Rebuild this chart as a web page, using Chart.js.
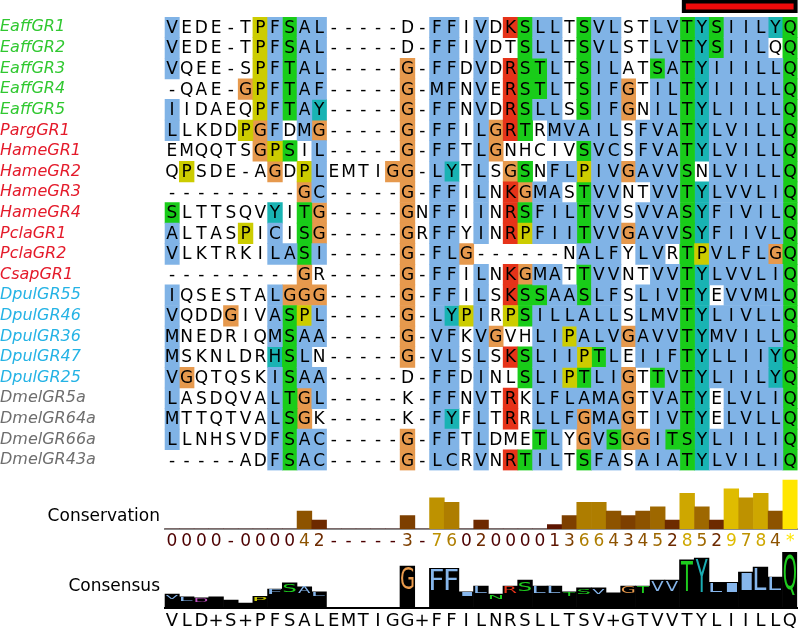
<!DOCTYPE html>
<html>
<head>
<meta charset="utf-8">
<script src="https://cdn.jsdelivr.net/npm/chart.js@4"></script>
<style>
  body { margin: 0; background: #fff; }
  .layer { position: absolute; left: 0; width: 800px; }
</style>
</head>
<body>
<div class="layer" style="top:0"><canvas id="alignment" width="800" height="480"></canvas></div>
<div class="layer" style="top:470px"><canvas id="conservation" width="800" height="80"></canvas></div>
<div class="layer" style="top:550px"><canvas id="consensus" width="800" height="81"></canvas></div>
<script>
// sequence names (rows)
const names = ['EaffGR1', 'EaffGR2', 'EaffGR3', 'EaffGR4', 'EaffGR5', 'PargGR1', 'HameGR1', 'HameGR2',
  'HameGR3', 'HameGR4', 'PclaGR1', 'PclaGR2', 'CsapGR1', 'DpulGR55', 'DpulGR46', 'DpulGR36',
  'DpulGR47', 'DpulGR25', 'DmelGR5a', 'DmelGR64a', 'DmelGR66a', 'DmelGR43a'];

// aligned residues, 43 columns each
const residues = [
  'VEDE-TPFSAL-----D-FFIVDKSLLTSVLSTLVTYSIILYQ',
  'VEDE-TPFSAL-----D-FFIVDTSLLTSVLSTLVTYSIILQQ',
  'VQEE-SPFTAL-----G-FFDVDRSTLTSILATSATYIIILLQ',
  '-QAE-GPFTAF-----G-MFNVERSTLTSIFGTILTYIIILLQ',
  'IIDAEQPFTAY-----G-FFNVDRSLLSSIFGNILTYLIILLQ',
  'LLKDDPGFDMG-----G-FFILGRTRMVAILSFVATYLVILLQ',
  'EMQQTSGPSIL-----G-FFTLGNHCIVSVCSFVATYLVILLQ',
  'QPSDE-AGDPLEMTIGG-LYTLSGSNFLPIVGAVVSNLVILLQ',
  '---------GC-----G-FFILNKGMASTVVNTVVTYLVVLIQ',
  'SLTTSQVYITG-----GNFFIINRSFILTVVSVVASYFIVILQ',
  'ALTASPICISG-----GRFFYINRPFIITVVGAVVSYFIIVLQ',
  'VLKTRKILASI-----G-FLG------NALFYLVRTPVLFLGQ',
  '---------GR-----G-FFILNKGMATTVVNTVVTYLVVLIQ',
  'IQSESTALGGG-----G-FFILSKSSAASLFSLIVTYEVVMLQ',
  'VQDDGIVASPL-----G-LYPIRPSILLALLSLMVTYLIVLLQ',
  'MNEDRIQMSAA-----G-VFKVGVHLIPALVGAVVTYMVILLQ',
  'MSKNLDRHSLN-----G-VLSLSKSLIIPTLEIIFTYLLIIYQ',
  'VGQTQSKISAA-----D-FFDINLSLIPTLIGTTVTYLIILYQ',
  'LASDQVALTGL-----K-FFNVTRKLFLAMAGTVATYELVLIQ',
  'MTTQTVALSGK-----K-FYFLTRRLLFGMAGTIVTYELVLLQ',
  'LLNHSVDFSAC-----G-FFTLDMETLYGVSGGITSYLIILIQ',
  '-----ADFSAC-----G-LCRVNRTILTSFASAIATYLVILIQ'
];

// Clustal colour class of each cell (b blue, g green, r red, o orange, y yellow, c cyan, . none)
const shades = [
  'b.....ybgbb ....... bb. b.rgbb.gbb..bbgcgbbbcg',
  'b.....ybgbb ....... bb. b..gbb.gbb..bbgcgbbb.g',
  'b.....ybgbb .....o. bb. b.rggb.gbb..gbgcbbbbbg',
  '.....oybgbb .....o. bb. b.rggb.gbbo.bbgcbbbbbg',
  'b.....ybgbc .....o. bb. b.rgbb.gbbo.bbgcbbbbbg',
  'b....yob.bo .....o. bb. borg.bbbbb.bbbgcbbbbbg',
  '......oyg.b .....o. bb. bo.....gbb.bbbgcbbbbbg',
  '.y.....o.yb ....oo. bc. b.og.bbybbobbbg.bbbbbg',
  '.........ob .....o. bb. b.robb.gbb..bbgcbbbbbg',
  'g......c.go .....o. bb. b.rgbbbgbb.bbbgcbbbbbg',
  'b....y.b.go .....o. bb. b.rybbbgbbobbbgcbbbbbg',
  'b......bbgb .....o. bbo ...... .bbb.bb.gybbbbog',
  '.........o. .....o. bb. b.robb.gbb..bbgcbbbbbg',
  'b......booo .....o. bb. b.rggbbgbb.bbbgc.bbbbg',
  'b...o..bgyb .....o. bcy b.ygbbbbbb.bbbgcbbbbbg',
  'b......bgbb .....o. bb. bo..bbybbbobbbgcbbbbbg',
  'b......cgb. .....o. bb. b.rgbbbygb.bbbgcbbbbcg',
  'bo.....bgbb ....... bb. b..gbbygbbo.gbgcbbbbcg',
  'b......bgob ....... bb. b.r.bbbbbbo.bbgc.bbbbg',
  'b......bgo. ....... bc. b.r.bbbobbo.bbgc.bbbbg',
  'b......bgbb .....o. bb. b...gb.obgoobggcbbbbbg',
  '.......bgbb .....o. bb. b.rgbb.gbb.bbbgcbbbbbg'
];

// conservation score per column ('-' gap column, '*' fully conserved)
const conservation = ['0', '0', '0', '0', '-', '0', '0', '0', '0', '4', '2', '-', '-', '-', '-', '-', '3', '-',
  '7', '6', '0', '2', '0', '0', '0', '0', '1', '3', '6', '6', '4', '3', '4', '5', '2', '8', '5', '2', '9',
  '7', '8', '4', '*'];

// consensus residue and logo height (% of column)
const consensus = ['V', 'L', 'D', '+', 'S', '+', 'P', 'F', 'S', 'A', 'L', 'E', 'M', 'T', 'I', 'G', 'G', '+',
  'F', 'F', 'I', 'L', 'N', 'R', 'S', 'L', 'L', 'T', 'S', 'V', '+', 'G', 'T', 'V', 'V', 'T', 'Y', 'L', 'I',
  'I', 'L', 'L', 'Q'];
const logoHeight = [25, 20, 18, 20, 14, 9, 21, 34, 45, 38, 29, 0, 0, 0, 0, 0, 75, 0, 71, 71, 29, 39, 25, 39,
  50, 39, 39, 29, 36, 36, 27, 39, 39, 50, 50, 86, 89, 46, 46, 64, 73, 55, 100];

// columns under the red marker
const markerCols = [36, 43];

const palette = { b: '#80b3e6', g: '#19cc19', r: '#e63319', o: '#e6994d', y: '#cccc00', c: '#19b3b3' };
const speciesColour = { Eaff: '#30c830', Parg: '#e41a2a', Hame: '#e41a2a', Pcla: '#e41a2a', Csap: '#e41a2a',
  Dpul: '#25b3e5', Dmel: '#6e6e6e' };
const logoColour = ch => 'AILMFVWC'.includes(ch) ? '#86b6ec' : 'G'.includes(ch) ? '#e99a4c'
  : 'KR'.includes(ch) ? '#e63319' : 'STNQ'.includes(ch) ? '#1ecc1e' : 'HY'.includes(ch) ? '#1aadb3'
  : 'P'.includes(ch) ? '#cccc00' : '#c050c0';

const consValue = s => s === '*' ? 11 : s === '-' ? 0 : Number(s);
const consColour = s => {
  const p = consValue(s) / 11;
  return `rgb(${Math.round(255 * (0.3 + 0.7 * p))},${Math.round(255 * 0.9 * p)},0)`;
};

const FONT = 'DejaVu Sans';

// ---------- alignment ----------
const cellSets = {};
shades.forEach((row, r) => {
  const s = row.replace(/ /g, '');
  let c = 0;
  while (c < s.length) {
    const k = s[c];
    let e = c;
    while (e + 1 < s.length && s[e + 1] === k) e++;
    if (k !== '.') {
      (cellSets[k] = cellSets[k] || []).push({ x: [c + 0.5, e + 1.5], y: names[r] });
    }
    c = e + 1;
  }
});

const residueText = {
  id: 'residueText',
  afterDatasetsDraw(chart) {
    const { ctx, scales: { x, y } } = chart;
    ctx.save();
    ctx.font = `17px '${FONT}'`;
    ctx.fillStyle = '#000';
    ctx.textAlign = 'center';
    ctx.textBaseline = 'middle';
    residues.forEach((seq, r) => {
      const py = y.getPixelForValue(r) + 1;
      [...seq].forEach((ch, c) => ctx.fillText(ch, x.getPixelForValue(c + 1), py));
    });
    // red marker bar above the last columns
    const left = x.getPixelForValue(markerCols[0] - 0.5) + 2;
    const right = x.getPixelForValue(markerCols[1] + 0.5);
    ctx.fillStyle = '#000';
    ctx.fillRect(left, 0, right - left, 13);
    ctx.fillStyle = '#ee0a0a';
    ctx.fillRect(left + 4, 3.5, right - left - 8, 6);
    ctx.restore();
  }
};

new Chart(document.getElementById('alignment'), {
  type: 'bar',
  data: {
    labels: names,
    datasets: Object.keys(cellSets).map(k => ({
      data: cellSets[k],
      backgroundColor: palette[k],
      borderWidth: 0,
      grouped: false,
      categoryPercentage: 1,
      barPercentage: 1
    }))
  },
  options: {
    indexAxis: 'y',
    responsive: false,
    animation: false,
    layout: { padding: { top: 17, right: 2.4, bottom: 4, left: 0 } },
    plugins: { legend: { display: false }, tooltip: { enabled: false } },
    scales: {
      x: { type: 'linear', min: 0.5, max: 43.5, display: false },
      y: {
        type: 'category',
        grid: { display: false, drawTicks: false },
        border: { display: false },
        ticks: {
          autoSkip: false,
          padding: 0,
          crossAlign: 'far',
          font: { family: FONT, size: 16, style: 'italic' },
          color: c => speciesColour[names[c.index].slice(0, 4)]
        },
        afterFit(scale) { scale.width = 164.6; }
      }
    }
  },
  plugins: [residueText]
});

// ---------- conservation ----------
const sideLabel = (text, y) => ({
  id: 'sideLabel',
  afterDraw(chart) {
    const { ctx, chartArea } = chart;
    ctx.save();
    ctx.font = `17px '${FONT}'`;
    ctx.fillStyle = '#000';
    ctx.textAlign = 'right';
    ctx.textBaseline = 'middle';
    ctx.fillText(text, chartArea.left - 4.6, y);
    ctx.restore();
  }
});

new Chart(document.getElementById('conservation'), {
  type: 'bar',
  data: {
    labels: conservation,
    datasets: [{
      data: conservation.map(consValue),
      backgroundColor: conservation.map(consColour),
      borderWidth: 0,
      categoryPercentage: 1,
      barPercentage: 1
    }]
  },
  options: {
    responsive: false,
    animation: false,
    layout: { padding: { top: 0, right: 2.4, bottom: 0, left: 164.6 } },
    plugins: { legend: { display: false }, tooltip: { enabled: false } },
    scales: {
      x: {
        grid: { display: false, drawTicks: false },
        border: { color: '#8c8c8c', width: 2 },
        ticks: {
          autoSkip: false,
          maxRotation: 0,
          padding: 2,
          font: { family: FONT, size: 17 },
          color: c => consColour(conservation[c.index])
        },
        afterFit(scale) { scale.height = 21; }
      },
      y: { display: false, min: 0, max: 13.25 }
    }
  },
  plugins: [sideLabel('Conservation', 47)]
});

// ---------- consensus ----------
const logoLetters = {
  id: 'logoLetters',
  afterDatasetsDraw(chart) {
    const { ctx, scales: { x, y } } = chart;
    const w = x.getPixelForValue(1) - x.getPixelForValue(0);
    ctx.save();
    ctx.font = `40px '${FONT}'`;
    ctx.textAlign = 'left';
    ctx.textBaseline = 'alphabetic';
    logoHeight.forEach((v, i) => {
      const ch = consensus[i];
      if (!/[A-Z]/.test(ch) || v < 18) return;
      const top = y.getPixelForValue(v);
      const h = y.getPixelForValue(0) - top;
      const lh = Math.max(h * h / 75, 4);
      const m = ctx.measureText(ch);
      const gw = m.actualBoundingBoxLeft + m.actualBoundingBoxRight;
      const gh = m.actualBoundingBoxAscent + m.actualBoundingBoxDescent;
      const sx = (w * 0.86) / gw;
      const sy = lh / gh;
      ctx.save();
      ctx.translate(x.getPixelForValue(i) - w * 0.43, top + 0.5 + m.actualBoundingBoxAscent * sy);
      ctx.scale(sx, sy);
      ctx.fillStyle = logoColour(ch);
      ctx.fillText(ch, m.actualBoundingBoxLeft, 0);
      ctx.restore();
    });
    ctx.restore();
  }
};

new Chart(document.getElementById('consensus'), {
  type: 'bar',
  data: {
    labels: consensus,
    datasets: [{
      data: logoHeight,
      backgroundColor: '#000',
      borderWidth: 0,
      categoryPercentage: 1,
      barPercentage: 1
    }]
  },
  options: {
    responsive: false,
    animation: false,
    layout: { padding: { top: 2, right: 2.4, bottom: 0, left: 164.6 } },
    plugins: { legend: { display: false }, tooltip: { enabled: false } },
    scales: {
      x: {
        grid: { display: false, drawTicks: false },
        border: { color: '#000', width: 2 },
        ticks: {
          autoSkip: false,
          maxRotation: 0,
          padding: 3,
          font: { family: FONT, size: 18 },
          color: '#000'
        },
        afterFit(scale) { scale.height = 23; }
      },
      y: { display: false, min: 0, max: 100 }
    }
  },
  plugins: [logoLetters, sideLabel('Consensus', 37)]
});
</script>
</body>
</html>
